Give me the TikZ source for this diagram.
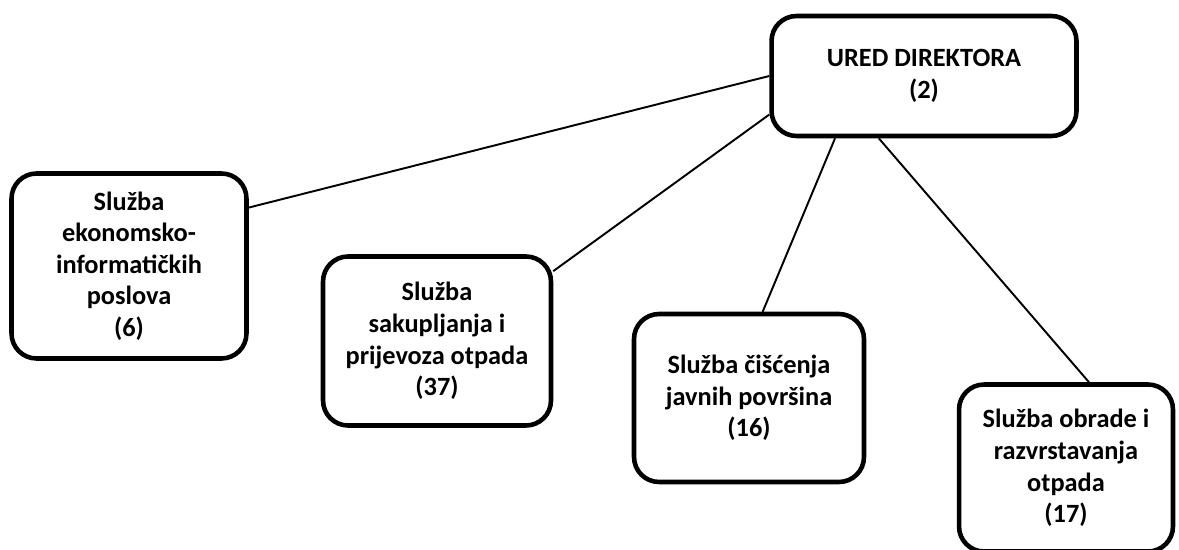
\documentclass[tikz,border=0pt]{standalone}
\usepackage{fontspec}
\setmainfont{Carlito}
\usepackage{tikz}

\begin{document}
\begin{tikzpicture}[x=0.02cm,y=-0.02cm,
	sluzba/.style={draw=black,line width=2.6pt,rounded corners=0.5cm,align=center,
		font=\bfseries\fontsize{15}{18}\selectfont,inner sep=2pt},
	veza/.style={black,line width=1.1pt}]
	\useasboundingbox (0,0) rectangle (1179,550);
\node[sluzba,minimum width=6.1cm,minimum height=2.4cm] (dir) at (924,76) {URED DIREKTORA\\(2)};
\node[sluzba,minimum width=4.7cm,minimum height=3.7cm] (eko) at (129,266) {Služba\\ekonomsko-\\informatičkih\\poslova\\(6)};
\node[sluzba,minimum width=4.56cm,minimum height=3.38cm] (sak) at (437,341) {Služba\\sakupljanja i\\prijevoza otpada\\(37)};
\node[sluzba,minimum width=4.6cm,minimum height=3.36cm] (cis) at (749,398) {Služba čišćenja\\javnih površina\\(16)};
\node[sluzba,minimum width=4.28cm,minimum height=3.34cm] (obr) at (1066,468) {Služba obrade i\\razvrstavanja\\otpada\\(17)};
\draw[veza] (dir.west) -- (eko.26);
\draw[veza] (dir.194) -- (sak.31);
\draw[veza] (dir.215) -- (cis.81);
\draw[veza] (dir.234) -- (obr.75);

\end{tikzpicture}
\end{document}
